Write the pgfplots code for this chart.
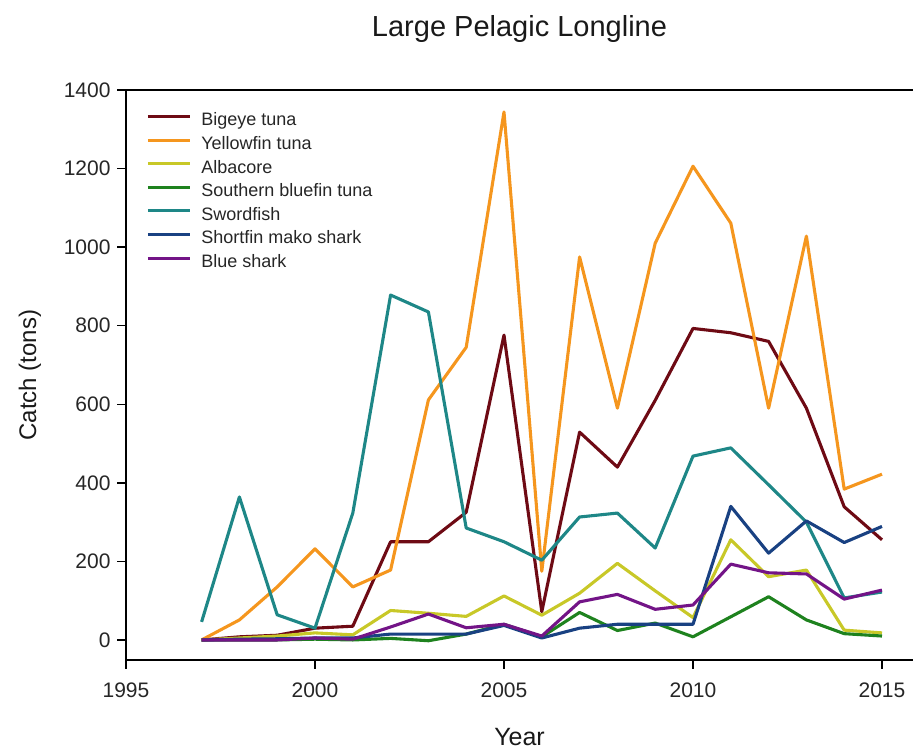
\documentclass[border=0pt]{standalone}
\usepackage{fontspec}
\setmainfont{Liberation Sans}
\usepackage{pgfplots}
\pgfplotsset{compat=1.18}
\definecolor{cBig}{RGB}{110,10,20}
\definecolor{cYel}{RGB}{245,150,30}
\definecolor{cAlb}{RGB}{200,200,40}
\definecolor{cSbt}{RGB}{30,130,30}
\definecolor{cSwo}{RGB}{30,135,135}
\definecolor{cMak}{RGB}{25,65,130}
\definecolor{cBlu}{RGB}{115,20,135}
\begin{document}
\begin{tikzpicture}
\begin{axis}[
  at={(126pt,91pt)}, anchor=south west,
  scale only axis, width=791pt, height=570pt,
  xmin=1995, xmax=2015.926, ymin=-51, ymax=1400,
  axis line style={line width=1.6pt, black, -},
  xtick={1995,2000,2005,2010,2015}, ytick={0,200,...,1400},
  xtick pos=bottom, ytick pos=left,
  tick align=outside, major tick length=9pt,
  tick style={line width=1.4pt, black},
  /pgf/number format/assume math mode=true,
  xticklabel={\pgfmathprintnumber[1000 sep={}]{\tick}},
  yticklabel={\pgfmathprintnumber[1000 sep={}]{\tick}},
  ticklabel style={font=\fontsize{21}{21}\selectfont, text=black!85},
  yticklabel style={xshift=-3pt},
  xticklabel style={yshift=-10pt},
  title={Large Pelagic Longline},
  title style={at={(axis description cs:0.4975,1)}, anchor=base, yshift=47pt, font=\fontsize{29}{29}\selectfont, text=black!90},
  xlabel={Year},
  xlabel style={at={(axis description cs:0.4975,0)}, anchor=base, yshift=-86pt, font=\fontsize{25}{25}\selectfont, text=black!90},
  ylabel={Catch (tons)},
  ylabel style={at={(axis description cs:-0.1214,0.5)}, anchor=center, font=\fontsize{24}{24}\selectfont, text=black!90},
  legend style={draw=none, fill=none, at={(axis description cs:0.0253,0.96)}, anchor=north west,
    font=\fontsize{18}{18}\selectfont, text=black!85, inner sep=0pt, row sep=6.6pt,
    nodes={inner sep=0pt, text height=13pt, text depth=4pt}},
  legend cell align=left,
  legend image code/.code={\draw[#1] (0pt,5pt) -- (42pt,5pt);},
  every axis plot/.append style={line width=3.1pt, line join=round},
]
\addplot[cBig] coordinates {(1997,0) (1998,8) (1999,12) (2000,30) (2001,35) (2002,250) (2003,250) (2004,325) (2005,776) (2006,72) (2007,529) (2008,440) (2009,610) (2010,793) (2011,782) (2012,760) (2013,590) (2014,339) (2015,255)};
\addlegendentry{\hspace{10pt}Bigeye tuna}
\addplot[cYel] coordinates {(1997,0) (1998,51) (1999,135) (2000,232) (2001,135) (2002,178) (2003,611) (2004,745) (2005,1344) (2006,175) (2007,975) (2008,590) (2009,1010) (2010,1206) (2011,1061) (2012,590) (2013,1028) (2014,384) (2015,422)};
\addlegendentry{\hspace{10pt}Yellowfin tuna}
\addplot[cAlb] coordinates {(1997,0) (1998,5) (1999,10) (2000,18) (2001,13) (2002,75) (2003,68) (2004,60) (2005,112) (2006,63) (2007,119) (2008,195) (2009,125) (2010,57) (2011,255) (2012,161) (2013,178) (2014,25) (2015,18)};
\addlegendentry{\hspace{10pt}Albacore}
\addplot[cSbt] coordinates {(1997,0) (1998,0) (1999,0) (2000,2) (2001,0) (2002,4) (2003,-2) (2004,15) (2005,40) (2006,8) (2007,70) (2008,24) (2009,43) (2010,8) (2011,59) (2012,110) (2013,51) (2014,16) (2015,10)};
\addlegendentry{\hspace{10pt}Southern bluefin tuna}
\addplot[cSwo] coordinates {(1997,46) (1998,364) (1999,64) (2000,30) (2001,323) (2002,878) (2003,835) (2004,285) (2005,250) (2006,203) (2007,313) (2008,323) (2009,234) (2010,468) (2011,489) (2012,395) (2013,300) (2014,107) (2015,122)};
\addlegendentry{\hspace{10pt}Swordfish}
\addplot[cMak] coordinates {(1997,0) (1998,2) (1999,3) (2000,5) (2001,5) (2002,15) (2003,15) (2004,15) (2005,37) (2006,5) (2007,30) (2008,40) (2009,40) (2010,40) (2011,340) (2012,221) (2013,303) (2014,248) (2015,289)};
\addlegendentry{\hspace{10pt}Shortfin mako shark}
\addplot[cBlu] coordinates {(1997,0) (1998,0) (1999,0) (2000,5) (2001,2) (2002,33) (2003,66) (2004,31) (2005,40) (2006,10) (2007,97) (2008,116) (2009,78) (2010,89) (2011,193) (2012,171) (2013,168) (2014,104) (2015,127)};
\addlegendentry{\hspace{10pt}Blue shark}
\end{axis}
\pgfresetboundingbox
\path[use as bounding box] (0,0) rectangle (913pt,751pt);
\end{tikzpicture}
\end{document}
